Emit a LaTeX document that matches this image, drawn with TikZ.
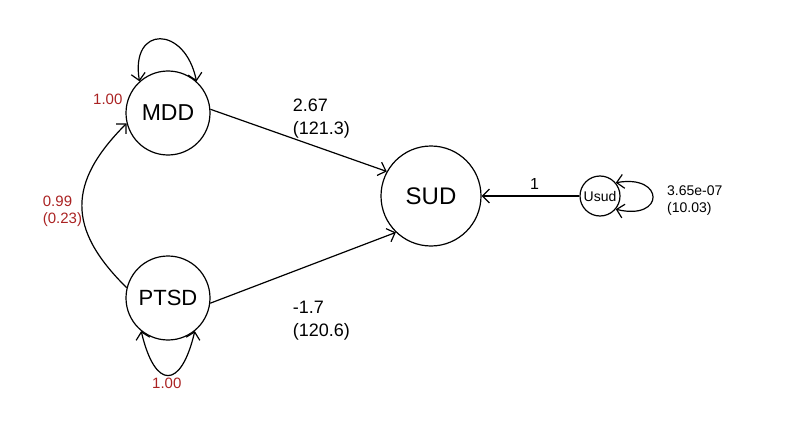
\documentclass[tikz,border=0pt]{standalone}
\usepackage{fontspec}
\setmainfont{Liberation Sans}
\usetikzlibrary{arrows.meta}
\definecolor{lblred}{RGB}{170,34,34}
\begin{document}
\begin{tikzpicture}[x=1pt,y=-1pt,
  var/.style={draw, circle, line width=1.2pt, inner sep=0pt},
  arr/.style={line width=1.2pt, -{Straight Barb[length=7pt,width=14pt,line width=1.2pt]}},
  arrtwo/.style={line width=1.2pt, {Straight Barb[length=7pt,width=14pt,line width=1.2pt]}-{Straight Barb[length=7pt,width=14pt,line width=1.2pt]}},
  redlbl/.style={text=lblred, inner sep=0pt, anchor=base west, font=\fontsize{15}{17}\selectfont},
  edgelbl/.style={inner sep=0pt, anchor=base west, font=\fontsize{18}{23.3}\selectfont},
  smalllbl/.style={inner sep=0pt, anchor=base west, font=\fontsize{14}{17.5}\selectfont}
]
\useasboundingbox (0,0) rectangle (812,428);

\node[var, minimum size=84pt, font=\fontsize{23}{27}\selectfont] (MDD) at (168,113) {MDD};
\node[var, minimum size=84pt, font=\fontsize{22}{26}\selectfont] (PTSD) at (168,298) {PTSD};
\node[var, minimum size=100pt, font=\fontsize{24}{28}\selectfont] (SUD) at (431,196) {SUD};
\node[var, minimum size=40pt, font=\fontsize{14}{17}\selectfont] (Usud) at (600,196) {Usud};

\draw[arr] (MDD.5) -- (SUD.151);
\draw[arr] (PTSD.-7) -- (SUD.226);
\draw[arr] (Usud.west) -- (SUD.east);
\draw[arr] (PTSD.166) .. controls (66.6,228.6) and (67.6,182.4) .. (MDD.194);
\draw[arrtwo] (MDD.132) .. controls (130,25) and (185,25) .. (MDD.48);
\draw[arrtwo] (PTSD.231) .. controls (155,390) and (181,390) .. (PTSD.309);
\draw[arrtwo] (Usud.40) .. controls (665,174) and (665,221) .. (Usud.-40);

\node[redlbl] (lMDD) at (93,104) {1.00};
\node[redlbl] (lcov) at (42.7,206) {\begin{tabular}[t]{@{}l@{}}0.99\\(0.23)\end{tabular}};
\node[redlbl] (lPTSD) at (152,388) {1.00};
\node[edgelbl] (lm) at (292.7,111.7) {\begin{tabular}[t]{@{}l@{}}2.67\\(121.3)\end{tabular}};
\node[edgelbl] (lp) at (292.7,313.3) {\begin{tabular}[t]{@{}l@{}}-1.7\\(120.6)\end{tabular}};
\node[inner sep=0pt, anchor=base west, font=\fontsize{16}{19}\selectfont] (lu) at (530,189) {1};
\node[smalllbl] (lv) at (667,195) {\begin{tabular}[t]{@{}l@{}}3.65e-07\\(10.03)\end{tabular}};
\end{tikzpicture}
\end{document}
